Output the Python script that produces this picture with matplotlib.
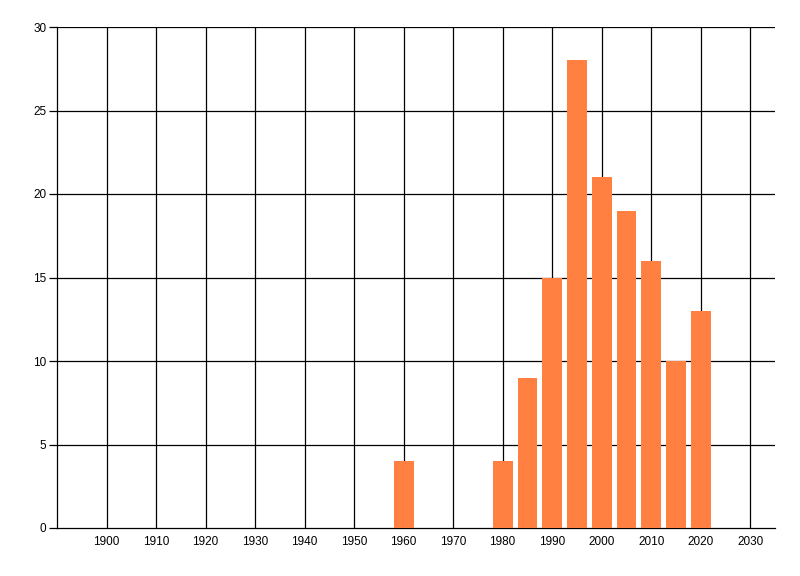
import matplotlib
matplotlib.use("Agg")
import matplotlib.pyplot as plt

# bar data (year bins of 5)
years = [1960, 1980, 1985, 1990, 1995, 2000, 2005, 2010, 2015, 2020]
counts = [4, 4, 9, 15, 28, 21, 19, 16, 10, 13]
x_ticks = list(range(1900, 2031, 10))
y_ticks = [0, 5, 10, 15, 20, 25, 30]

plt.rcParams['font.family'] = ['Liberation Sans', 'DejaVu Sans']

fig = plt.figure(figsize=(8, 5.76), dpi=100)
ax = fig.add_axes([57 / 800, 48 / 576, 718 / 800, 501 / 576])

ax.bar(years, counts, width=4, color='#FF8040', zorder=3)

ax.set_xlim(1890, 2035)
ax.set_ylim(0, 30)
ax.set_xticks(x_ticks)
ax.set_yticks(y_ticks)

# grid lines in black like the WinForms chart
for x in x_ticks:
    ax.axvline(x, color='black', lw=0.9, zorder=1)
for y in y_ticks[1:]:
    ax.axhline(y, color='black', lw=0.9, zorder=1)

ax.spines['top'].set_visible(False)
ax.spines['right'].set_visible(False)
ax.spines['left'].set_linewidth(0.9)
ax.spines['bottom'].set_linewidth(0.9)

ax.tick_params(axis='x', length=0, pad=5.5, labelsize=8.5)
ax.tick_params(axis='y', length=6, width=0.9, pad=1.5, labelsize=8.5)

fig.savefig('out.png', dpi=100)
